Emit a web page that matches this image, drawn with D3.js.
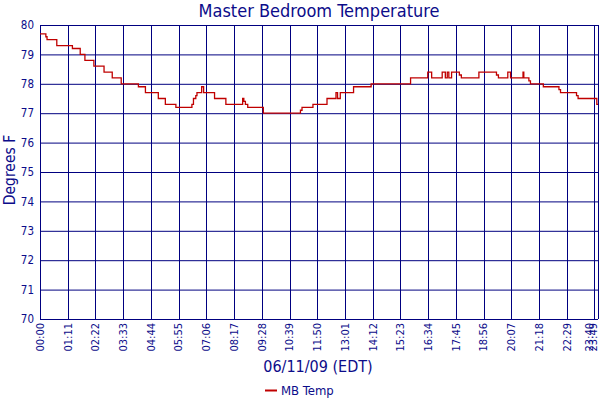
<!DOCTYPE html>
<html lang="en">
<head>
  <meta charset="UTF-8">
  <script src="https://d3js.org/d3.v7.min.js"></script>
  <title>Master Bedroom Temperature</title>
  <style>
    body { margin: 0; background: #fff; }
    text { font-family: "DejaVu Sans Condensed", "DejaVu Sans", sans-serif; fill: #0c0c8a; }
  </style>
</head>
<body>
  <div id="chart"></div>
  <script>
    // sample times (HH:MM) and readings, step data
    const times = [
      '00:00', '00:15', '00:18', '00:43', '01:23', '01:43', '01:55', '02:18', '02:44', '03:05',
      '03:28', '04:12', '04:30', '05:03', '05:21', '05:48', '06:29', '06:33', '06:39', '06:42',
      '06:54', '06:59', '07:27', '07:56', '08:39', '08:42', '08:46', '08:52', '09:32', '11:07',
      '11:11', '11:39', '12:15', '12:38', '12:42', '12:49', '13:23', '14:08', '15:49', '16:33',
      '16:43', '17:10', '17:18', '17:23', '17:27', '17:34', '17:54', '17:59', '18:44', '19:29',
      '19:34', '19:58', '20:05', '20:37', '20:39', '20:52', '20:56', '21:29', '22:09', '22:13',
      '22:54', '22:58', '23:46', '23:49'
    ];
    const temps = [
      79.7, 79.6, 79.5, 79.3, 79.2, 79.0, 78.8, 78.6, 78.4, 78.2,
      78.0, 77.9, 77.7, 77.5, 77.3, 77.2, 77.3, 77.5, 77.6, 77.7,
      77.9, 77.7, 77.5, 77.3, 77.5, 77.4, 77.3, 77.2, 77.0, 77.1,
      77.2, 77.3, 77.5, 77.7, 77.5, 77.7, 77.9, 78.0, 78.2, 78.4,
      78.2, 78.4, 78.2, 78.4, 78.2, 78.4, 78.3, 78.2, 78.4, 78.3,
      78.2, 78.4, 78.2, 78.4, 78.2, 78.1, 78.0, 77.9, 77.8, 77.7,
      77.6, 77.5, 77.3, 77.3
    ];
    const xTickLabels = [
      '00:00', '01:11', '02:22', '03:33', '04:44', '05:55', '07:06', '08:17', '09:28', '10:39',
      '11:50', '13:01', '14:12', '15:23', '16:34', '17:45', '18:56', '20:07', '21:18', '22:29',
      '23:40', '23:49'
    ];
    const yTicks = [70, 71, 72, 73, 74, 75, 76, 77, 78, 79, 80];

    const toMin = s => { const [h, m] = s.split(':').map(Number); return h * 60 + m; };
    const data = times.map((t, i) => ({ t: toMin(t), v: temps[i] }));

    const width = 600, height = 400;
    const plotL = 40, plotR = 598, plotT = 25, plotB = 319;
    const navy = '#000080';

    const svg = d3.select('#chart').append('svg')
      .attr('width', width)
      .attr('height', height);

    const x = d3.scaleLinear()
      .domain([0, toMin(times[times.length - 1])])
      .range([plotL, plotR]);
    const y = d3.scaleLinear()
      .domain([70, 80])
      .range([plotB, plotT]);

    const xTicks = xTickLabels.map(toMin);

    // grid
    svg.append('g').selectAll('line')
      .data(yTicks)
      .enter()
      .append('line')
      .attr('x1', plotL).attr('x2', plotR)
      .attr('y1', d => y(d) + 0.5).attr('y2', d => y(d) + 0.5)
      .attr('stroke', navy);

    svg.append('g').selectAll('line')
      .data(xTicks)
      .enter()
      .append('line')
      .attr('x1', d => Math.round(x(d)) + 0.5).attr('x2', d => Math.round(x(d)) + 0.5)
      .attr('y1', plotT).attr('y2', plotB)
      .attr('stroke', navy);

    // y axis labels
    const yAxis = svg.append('g')
      .attr('transform', `translate(${plotL},0)`)
      .call(d3.axisLeft(y).tickValues(yTicks).tickSize(0).tickPadding(6).tickFormat(d3.format('d')));
    yAxis.select('.domain').remove();
    yAxis.selectAll('text').style('font-size', '11.5px').attr('fill', '#0c0c8a');

    // x axis labels, rotated; the last two are nudged left so they stay on the page
    const xAxis = svg.append('g')
      .attr('transform', `translate(0,${plotB})`)
      .call(d3.axisBottom(x).tickValues(xTicks).tickSize(0)
        .tickFormat((d, i) => xTickLabels[i]));
    xAxis.select('.domain').remove();
    xAxis.selectAll('.tick')
      .attr('transform', d => `translate(${x(d) > 590 ? x(d) - 5 : x(d)},0)`);
    xAxis.selectAll('text')
      .style('font-size', '11px')
      .attr('fill', '#0c0c8a')
      .attr('text-anchor', 'end')
      .attr('transform', 'rotate(-90)')
      .attr('x', -4)
      .attr('y', 0)
      .attr('dy', '0.35em');

    // temperature line
    const line = d3.line()
      .x(d => x(d.t))
      .y(d => y(d.v))
      .curve(d3.curveStepAfter);

    svg.append('path')
      .datum(data)
      .attr('d', line)
      .attr('fill', 'none')
      .attr('stroke', '#c00000')
      .attr('stroke-width', 1.3);

    // titles
    svg.append('text')
      .attr('x', 319).attr('y', 17)
      .attr('text-anchor', 'middle')
      .style('font-size', '18px')
      .text('Master Bedroom Temperature');

    svg.append('text')
      .attr('transform', 'translate(15,170) rotate(-90)')
      .attr('text-anchor', 'middle')
      .style('font-size', '15.5px')
      .text('Degrees F');

    svg.append('text')
      .attr('x', 318).attr('y', 372)
      .attr('text-anchor', 'middle')
      .style('font-size', '16px')
      .text('06/11/09 (EDT)');

    // legend
    svg.append('line')
      .attr('x1', 265).attr('x2', 277)
      .attr('y1', 390.5).attr('y2', 390.5)
      .attr('stroke', '#c00000')
      .attr('stroke-width', 2);
    svg.append('text')
      .attr('x', 281).attr('y', 395)
      .style('font-size', '13px')
      .text('MB Temp');
  </script>
</body>
</html>
